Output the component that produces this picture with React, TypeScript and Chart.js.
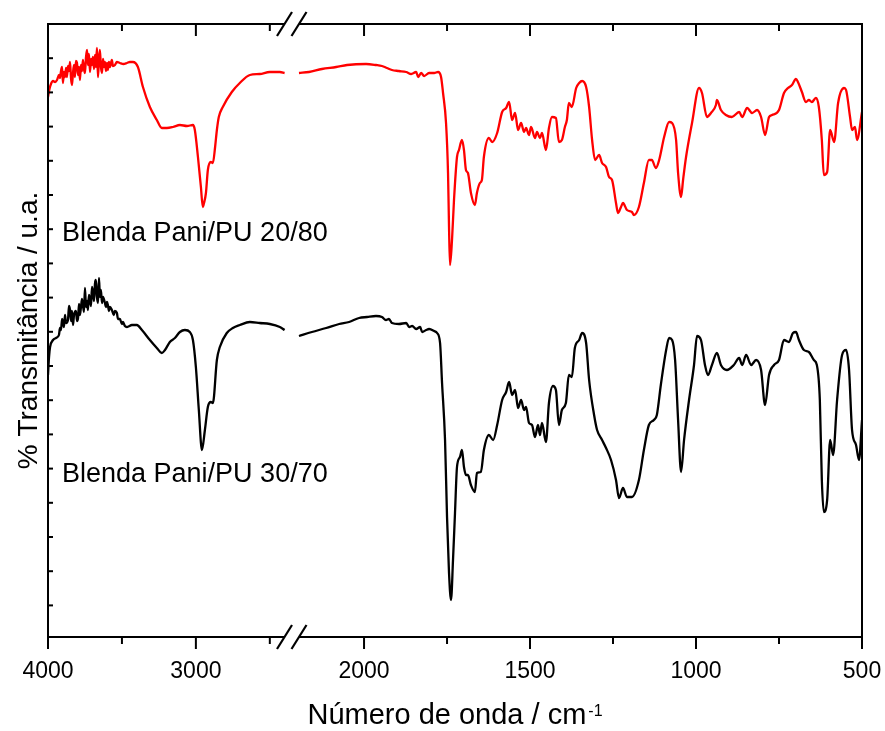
import React, { useEffect, useRef } from 'react';
import { Chart, registerables } from 'chart.js';

Chart.register(...registerables);

// ---- axis layout (broken wavenumber axis) ----
const LEFT_MIN = 2350;
const LEFT_MAX = 4000;
const RIGHT_MIN = 500;
const RIGHT_MAX = 2217;
const Y_MIN = 0;
const Y_MAX = 613;

const leftTicks = [4000, 3500, 3000, 2500];
const rightTicks = [2000, 1750, 1500, 1250, 1000, 750, 500];
const leftTickLabels = [4000, 3000];
const rightTickLabels = [2000, 1500, 1000, 500];

const xTitle = 'Número de onda / cm';
const xTitleSup = '-1';
const yTitle = '% Transmitância / u.a.';
const label2080 = 'Blenda Pani/PU 20/80';
const label3070 = 'Blenda Pani/PU 30/70';

// ---- Blenda Pani/PU 20/80 (red) ----
const red4000to2400 = [
  [4000, 540], [3990, 548], [3980, 553], [3966, 556], [3952, 555], [3939, 557], [3925, 562],
  [3919, 559], [3912, 566], [3905, 570], [3899, 554], [3892, 565], [3885, 560], [3878, 569],
  [3872, 560], [3865, 571], [3858, 566], [3851, 575], [3844, 558], [3838, 552], [3831, 564],
  [3824, 572], [3818, 560], [3811, 576], [3804, 574], [3797, 562], [3790, 570], [3784, 557],
  [3777, 572], [3770, 566], [3764, 577], [3757, 568], [3750, 564], [3743, 580], [3736, 587],
  [3730, 572], [3723, 583], [3716, 565], [3709, 578], [3703, 572], [3696, 580], [3689, 568],
  [3682, 582], [3676, 570], [3669, 589], [3662, 560], [3655, 578], [3649, 587], [3642, 570],
  [3635, 564], [3628, 578], [3622, 570], [3615, 575], [3608, 566], [3601, 574], [3595, 567],
  [3588, 575], [3581, 570], [3568, 577], [3561, 571], [3547, 572], [3534, 575], [3514, 574],
  [3490, 573], [3466, 574], [3446, 575], [3426, 575], [3392, 570], [3358, 550], [3311, 530],
  [3264, 517], [3230, 509], [3196, 509], [3155, 510], [3108, 512], [3060, 511], [3020, 512],
  [3007, 507], [2986, 480], [2966, 450], [2953, 430], [2945, 434], [2932, 444], [2919, 467],
  [2899, 475], [2885, 474], [2870, 490], [2858, 507], [2845, 520], [2818, 530], [2757, 545],
  [2703, 554], [2635, 562], [2568, 563], [2500, 565], [2432, 565], [2400, 564],
];

const red2200to500 = [
  [2196, 564], [2166, 565], [2127, 568], [2084, 570], [2051, 572], [1994, 573], [1964, 572],
  [1946, 571], [1931, 569], [1916, 567], [1895, 566], [1873, 565], [1858, 563], [1843, 565],
  [1837, 560], [1828, 564], [1819, 561], [1804, 564], [1789, 564], [1777, 565], [1768, 560],
  [1762, 544], [1753, 514], [1747, 464], [1744, 410], [1741, 372], [1735, 397], [1729, 437],
  [1720, 480], [1714, 487], [1705, 497], [1699, 487], [1693, 467], [1687, 464], [1678, 444],
  [1666, 432], [1660, 444], [1651, 454], [1645, 457], [1639, 480], [1624, 499], [1614, 495],
  [1599, 504], [1584, 525], [1572, 529], [1563, 535], [1554, 517], [1545, 524], [1536, 507],
  [1527, 514], [1518, 505], [1512, 509], [1503, 502], [1497, 510], [1485, 499], [1479, 505],
  [1470, 499], [1464, 504], [1452, 487], [1443, 509], [1434, 520], [1422, 519], [1413, 495],
  [1404, 497], [1395, 510], [1389, 517], [1383, 534], [1374, 530], [1361, 549], [1352, 554],
  [1343, 556], [1331, 550], [1322, 530], [1313, 497], [1304, 477], [1292, 482], [1283, 474],
  [1271, 470], [1262, 460], [1253, 457], [1241, 434], [1235, 424], [1226, 430], [1220, 434],
  [1208, 427], [1193, 425], [1187, 422], [1172, 430], [1157, 454], [1142, 477], [1133, 477],
  [1121, 469], [1111, 477], [1096, 500], [1081, 515], [1072, 514], [1060, 497], [1054, 464],
  [1045, 440], [1039, 457], [1030, 480], [1012, 514], [991, 549], [982, 544], [967, 520],
  [955, 524], [940, 532], [937, 537], [925, 527], [910, 522], [892, 520], [870, 525],
  [861, 520], [846, 529], [831, 524], [816, 527], [804, 520], [792, 502], [780, 520],
  [771, 522], [750, 527], [735, 544], [723, 549], [711, 552], [699, 558], [693, 555],
  [681, 545], [669, 535], [660, 537], [651, 535], [639, 539], [630, 530], [621, 497],
  [615, 462], [605, 465], [596, 507], [584, 495], [572, 534], [554, 549], [548, 547],
  [536, 520], [530, 507], [521, 510], [515, 497], [500, 525],
];

// ---- Blenda Pani/PU 30/70 (black) ----
const black4000to2400 = [
  [4000, 262], [3993, 280], [3986, 290], [3966, 297], [3946, 299], [3926, 302], [3919, 309],
  [3912, 307], [3905, 318], [3899, 315], [3892, 310], [3885, 322], [3878, 314], [3865, 317],
  [3858, 331], [3851, 327], [3844, 316], [3838, 326], [3831, 312], [3824, 322], [3811, 326],
  [3804, 316], [3797, 319], [3790, 333], [3784, 322], [3777, 330], [3770, 338], [3757, 325],
  [3750, 349], [3743, 330], [3736, 336], [3730, 327], [3723, 342], [3716, 337], [3709, 331],
  [3703, 350], [3696, 345], [3689, 336], [3682, 354], [3676, 357], [3669, 340], [3662, 334],
  [3655, 359], [3649, 340], [3642, 347], [3635, 334], [3628, 340], [3615, 334], [3608, 330],
  [3601, 335], [3595, 332], [3588, 326], [3581, 330], [3568, 327], [3555, 322], [3548, 326],
  [3534, 324], [3527, 318], [3514, 318], [3500, 313], [3493, 315], [3480, 311], [3466, 310],
  [3432, 312], [3399, 312], [3365, 307], [3311, 297], [3264, 289], [3230, 284], [3209, 287],
  [3176, 295], [3142, 299], [3108, 305], [3074, 307], [3041, 305], [3020, 297], [3000, 270],
  [2980, 227], [2959, 187], [2939, 207], [2919, 230], [2899, 235], [2885, 234], [2858, 277],
  [2838, 290], [2791, 304], [2750, 309], [2703, 312], [2635, 315], [2568, 314], [2500, 313],
  [2432, 310], [2400, 307],
];

const black2200to500 = [
  [2196, 301], [2157, 305], [2114, 309], [2075, 313], [2045, 315], [2015, 319], [1991, 320],
  [1964, 321], [1946, 320], [1934, 317], [1925, 318], [1916, 314], [1895, 313], [1873, 314],
  [1864, 310], [1855, 311], [1843, 308], [1831, 310], [1825, 305], [1813, 307], [1804, 308],
  [1789, 306], [1780, 304], [1771, 294], [1765, 254], [1756, 197], [1750, 120], [1744, 64],
  [1738, 37], [1732, 77], [1726, 124], [1720, 170], [1711, 180], [1705, 187], [1699, 170],
  [1693, 162], [1687, 162], [1678, 152], [1666, 145], [1660, 164], [1648, 165], [1639, 187],
  [1624, 202], [1611, 197], [1599, 212], [1584, 237], [1572, 245], [1563, 255], [1554, 242],
  [1545, 247], [1536, 229], [1527, 237], [1518, 227], [1512, 230], [1503, 214], [1494, 212],
  [1485, 200], [1476, 212], [1470, 202], [1464, 214], [1452, 195], [1443, 234], [1431, 251],
  [1422, 247], [1413, 212], [1404, 227], [1392, 234], [1383, 262], [1374, 260], [1365, 289],
  [1352, 297], [1343, 304], [1331, 294], [1322, 257], [1307, 222], [1298, 207], [1283, 197],
  [1271, 189], [1256, 177], [1241, 157], [1232, 139], [1220, 149], [1208, 140], [1193, 140],
  [1172, 157], [1157, 187], [1142, 212], [1127, 217], [1118, 222], [1106, 252], [1090, 287],
  [1081, 299], [1072, 297], [1063, 277], [1054, 217], [1045, 165], [1036, 197], [1021, 237],
  [1006, 272], [997, 301], [985, 297], [973, 272], [964, 262], [952, 272], [937, 284],
  [925, 272], [907, 267], [886, 272], [870, 279], [861, 272], [849, 282], [834, 272],
  [819, 277], [804, 267], [792, 232], [780, 262], [765, 272], [750, 277], [735, 297],
  [720, 295], [708, 304], [699, 305], [690, 297], [675, 287], [660, 285], [645, 277],
  [636, 272], [627, 237], [621, 157], [615, 125], [605, 137], [596, 197], [587, 182],
  [575, 237], [560, 282], [548, 287], [539, 267], [530, 207], [518, 192], [509, 177],
  [500, 217],
];

const toPoints = (arr: number[][]) => arr.map(([x, y]) => ({ x, y }));

const FONT = '"Liberation Sans", Arial, Helvetica, sans-serif';

const framePlugin = {
  id: 'frameAndText',
  afterDraw(chart: any) {
    const { ctx, chartArea: a, scales } = chart;
    const x1 = scales.x1;
    const x2 = scales.x2;
    const y = scales.y;
    ctx.save();
    ctx.strokeStyle = '#000';
    ctx.lineCap = 'butt';
    ctx.lineWidth = 2;
    ctx.strokeRect(a.left, a.top, a.right - a.left, a.bottom - a.top);

    const vtick = (px: number, y0: number, len: number) => {
      ctx.beginPath();
      ctx.moveTo(px, y0);
      ctx.lineTo(px, y0 + len);
      ctx.stroke();
    };
    const drawTicks = (scale: any, ticks: number[], labels: number[]) => {
      for (const v of ticks) {
        const px = scale.getPixelForValue(v);
        const major = labels.includes(v);
        const len = major ? 12 : 7;
        vtick(px, a.bottom, len);
        vtick(px, a.top, len);
      }
    };
    drawTicks(x1, leftTicks, leftTickLabels);
    drawTicks(x2, rightTicks, rightTickLabels);

    // left axis inner ticks
    const step = 34.2;
    for (let k = 1; k <= 17; k++) {
      const py = y.getPixelForValue(Y_MAX - step * k);
      ctx.beginPath();
      ctx.moveTo(a.left, py);
      ctx.lineTo(a.left + 5, py);
      ctx.stroke();
    }

    // axis break marks
    const bx = x1.right;
    for (const yy of [a.top, a.bottom]) {
      ctx.fillStyle = '#fff';
      ctx.fillRect(bx - 7.5, yy - 2, 14.5, 4);
      ctx.lineWidth = 2.2;
      for (const cx of [bx - 7.5, bx + 7]) {
        ctx.beginPath();
        ctx.moveTo(cx - 7.5, yy + 12);
        ctx.lineTo(cx + 7.5, yy - 12);
        ctx.stroke();
      }
    }

    // tick labels
    ctx.fillStyle = '#000';
    ctx.font = `23px ${FONT}`;
    ctx.textAlign = 'center';
    ctx.textBaseline = 'alphabetic';
    for (const v of leftTickLabels) ctx.fillText(String(v), x1.getPixelForValue(v), 678);
    for (const v of rightTickLabels) ctx.fillText(String(v), x2.getPixelForValue(v), 678);

    // x title with superscript
    ctx.textAlign = 'left';
    ctx.font = `29px ${FONT}`;
    const w1 = ctx.measureText(xTitle).width;
    ctx.font = `16px ${FONT}`;
    const w2 = ctx.measureText(xTitleSup).width;
    const start = 455 - (w1 + w2 + 2) / 2;
    ctx.font = `29px ${FONT}`;
    ctx.fillText(xTitle, start, 724);
    ctx.font = `16px ${FONT}`;
    ctx.fillText(xTitleSup, start + w1 + 2, 716);

    // y title
    ctx.save();
    ctx.translate(29, (a.top + a.bottom) / 2);
    ctx.rotate(-Math.PI / 2);
    ctx.font = `28px ${FONT}`;
    ctx.textAlign = 'center';
    ctx.textBaseline = 'middle';
    ctx.fillText(yTitle, 0, 0);
    ctx.restore();

    // series labels
    ctx.font = `27px ${FONT}`;
    ctx.textAlign = 'left';
    ctx.textBaseline = 'alphabetic';
    ctx.fillText(label2080, 62, 241);
    ctx.fillText(label3070, 62, 482);
    ctx.restore();
  },
};

export default function App() {
  const ref = useRef<HTMLCanvasElement>(null);
  useEffect(() => {
    if (!ref.current) return;
    const mk = (data: number[][], color: string, axis: string) => ({
      data: toPoints(data),
      xAxisID: axis,
      yAxisID: 'y',
      borderColor: color,
      backgroundColor: color,
      borderWidth: 2.3,
      pointRadius: 0,
      fill: false,
      cubicInterpolationMode: 'monotone' as const,
    });
    const chart = new Chart(ref.current, {
      type: 'line',
      data: {
        datasets: [
          mk(red4000to2400, '#ff0000', 'x1'),
          mk(red2200to500, '#ff0000', 'x2'),
          mk(black4000to2400, '#000000', 'x1'),
          mk(black2200to500, '#000000', 'x2'),
        ],
      },
      options: {
        responsive: false,
        animation: false,
        events: [],
        layout: { padding: { left: 48, right: 23, top: 24, bottom: 94 } },
        plugins: {
          legend: { display: false },
          title: { display: false },
          tooltip: { enabled: false },
        },
        scales: {
          x1: {
            type: 'linear', position: 'bottom', stack: 'wn', stackWeight: 244,
            min: LEFT_MIN, max: LEFT_MAX, reverse: true, display: false,
          },
          x2: {
            type: 'linear', position: 'bottom', stack: 'wn', stackWeight: 570,
            min: RIGHT_MIN, max: RIGHT_MAX, reverse: true, display: false,
          },
          y: { type: 'linear', position: 'left', min: Y_MIN, max: Y_MAX, display: false },
        },
      } as any,
      plugins: [framePlugin],
    });
    return () => chart.destroy();
  }, []);
  return (
    <div style={{ position: 'fixed', left: 0, top: 0, width: 885, height: 731, background: '#fff' }}>
      <canvas ref={ref} width={885} height={731} style={{ display: 'block', width: 885, height: 731 }} />
    </div>
  );
}
